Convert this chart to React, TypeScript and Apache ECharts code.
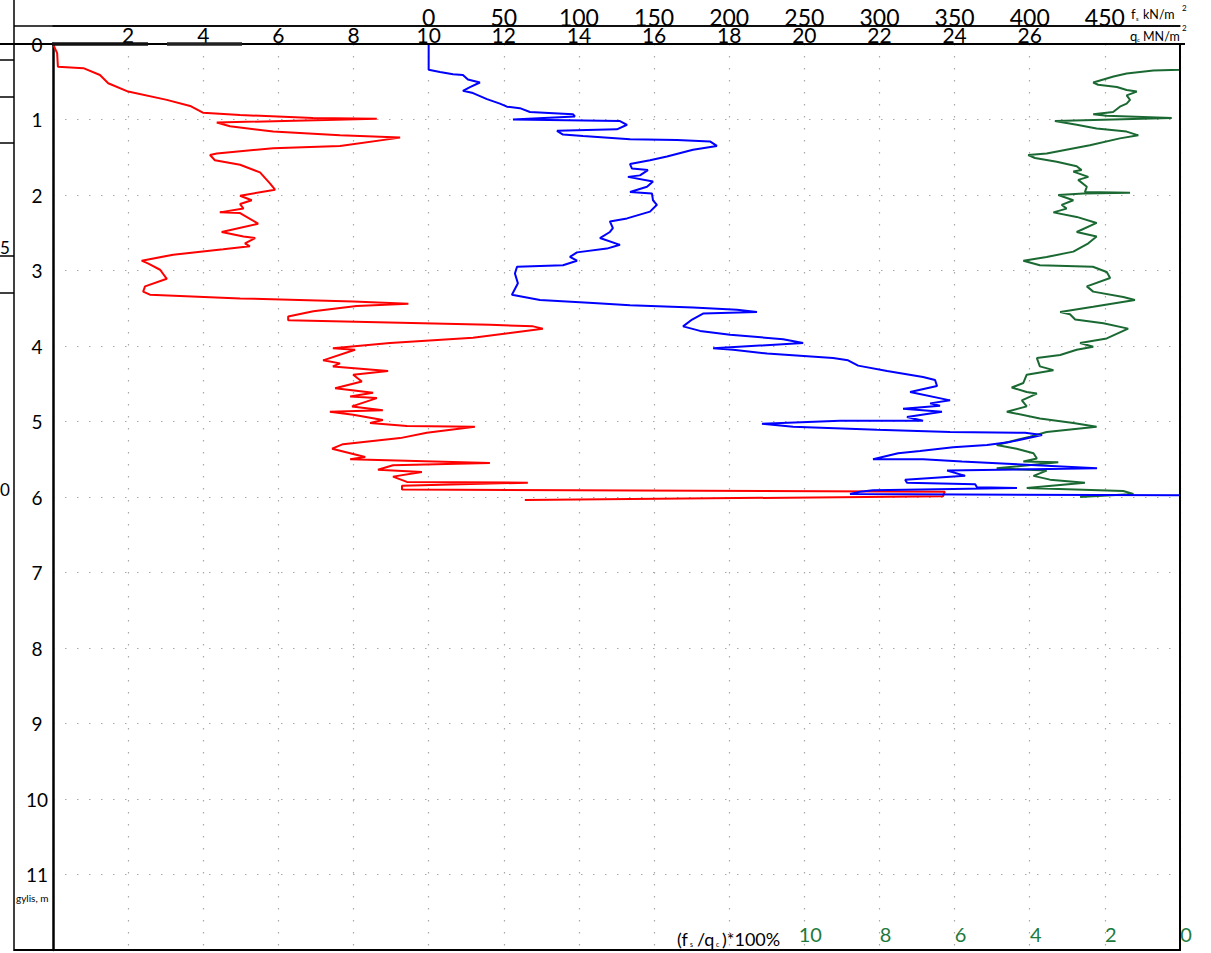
import React, { useEffect, useRef } from "react";
import * as echarts from "echarts";

// Tick labels
const depthTickLabels = [0, 1, 2, 3, 4, 5, 6, 7, 8, 9, 10, 11];
const qcTickLabels = [2, 4, 6, 8, 10, 12, 14, 16, 18, 20, 22, 24, 26];
const fsTickLabels = [0, 50, 100, 150, 200, 250, 300, 350, 400, 450];
const ratioTickLabels = [0, 2, 4, 6, 8, 10];

// qc (MN/m2) vs depth (m): [qc, depth]
const qcProfile: [number, number][] = [
  [0.0, 0.0], [0.11, 0.12], [0.13, 0.3], [0.81, 0.32], [1.25, 0.41], [1.47, 0.52], [2.0, 0.63],
  [3.03, 0.74], [3.65, 0.82], [3.99, 0.91], [4.98, 0.94], [6.92, 0.98], [8.62, 0.99], [4.36, 1.04],
  [4.71, 1.09], [5.86, 1.16], [7.64, 1.21], [9.24, 1.24], [7.64, 1.35], [5.86, 1.38], [4.36, 1.45],
  [4.18, 1.47], [4.31, 1.54], [4.98, 1.6], [5.51, 1.7], [5.78, 1.85], [5.91, 1.93], [4.98, 2.01],
  [5.29, 2.07], [4.98, 2.12], [5.07, 2.18], [4.44, 2.23], [4.98, 2.24], [5.46, 2.38], [4.49, 2.49],
  [5.07, 2.55], [5.38, 2.57], [5.11, 2.64], [5.24, 2.68], [4.53, 2.72], [3.2, 2.79], [2.36, 2.87],
  [2.54, 2.91], [2.85, 2.99], [3.03, 3.11], [2.45, 3.21], [2.4, 3.28], [2.58, 3.32], [4.98, 3.37],
  [7.99, 3.41], [9.46, 3.44], [8.08, 3.47], [6.93, 3.54], [6.26, 3.61], [6.26, 3.66], [11.63, 3.72],
  [12.78, 3.74], [13.04, 3.77], [11.18, 3.89], [8.97, 3.96], [7.45, 4.03], [8.04, 4.05], [7.19, 4.19],
  [7.64, 4.23], [7.45, 4.27], [8.92, 4.33], [7.99, 4.38], [8.22, 4.47], [7.51, 4.56], [8.52, 4.62],
  [7.91, 4.67], [8.62, 4.69], [7.96, 4.8], [8.78, 4.85], [7.37, 4.87], [7.99, 4.91], [8.78, 4.98],
  [8.44, 5.02], [9.42, 5.06], [11.23, 5.07], [9.95, 5.15], [9.24, 5.22], [7.72, 5.3], [7.43, 5.36],
  [8.31, 5.47], [7.91, 5.5], [11.63, 5.55], [9.05, 5.58], [8.65, 5.64], [9.82, 5.67], [9.05, 5.73],
  [9.42, 5.8], [12.64, 5.81], [9.29, 5.85], [9.29, 5.9], [23.74, 5.93], [23.69, 5.99], [12.56, 6.04],
];

// fs (kN/m2) vs depth (m): [fs, depth]
const fsProfile: [number, number][] = [
  [0, 0], [0, 0.34], [7.5, 0.37], [16.2, 0.4], [22.8, 0.41], [26.1, 0.47], [34.1, 0.51], [27.5, 0.57],
  [22.8, 0.62], [29.5, 0.65], [38.8, 0.73], [47.4, 0.79], [52.1, 0.83], [60.7, 0.85], [67.4, 0.9],
  [96.0, 0.93], [97.3, 0.96], [56.1, 1.0], [127.3, 1.02], [132.0, 1.07], [125.3, 1.13], [85.4, 1.15],
  [89.4, 1.2], [102.7, 1.22], [134.0, 1.26], [165.2, 1.27], [187.2, 1.29], [191.8, 1.35], [175.9, 1.4],
  [158.6, 1.49], [147.3, 1.54], [134.0, 1.59], [135.3, 1.65], [145.9, 1.67], [140.6, 1.74], [132.6, 1.76],
  [149.3, 1.82], [145.3, 1.89], [134.0, 1.96], [148.6, 1.98], [149.3, 2.07], [151.9, 2.13], [147.3, 2.22],
  [132.0, 2.31], [120.6, 2.35], [122.6, 2.44], [120.6, 2.49], [114.0, 2.57], [127.3, 2.66], [118.6, 2.71],
  [98.7, 2.76], [94.0, 2.82], [98.7, 2.87], [89.4, 2.93], [58.8, 2.95], [57.4, 3.04], [59.4, 3.17],
  [55.4, 3.32], [74.1, 3.39], [109.4, 3.43], [134.0, 3.46], [175.9, 3.49], [205.2, 3.52], [218.5, 3.55],
  [182.6, 3.57], [175.3, 3.65], [169.3, 3.74], [180.6, 3.8], [200.6, 3.85], [235.9, 3.91], [249.2, 3.96],
  [189.3, 4.03], [202.6, 4.05], [225.2, 4.1], [269.1, 4.16], [279.1, 4.19], [285.8, 4.26], [305.1, 4.33],
  [329.0, 4.41], [337.0, 4.45], [338.3, 4.53], [320.4, 4.61], [347.0, 4.72], [333.7, 4.76], [340.3, 4.79],
  [315.7, 4.83], [341.6, 4.87], [318.3, 4.94], [329.0, 4.99], [273.8, 4.99], [221.8, 5.03], [242.5, 5.07],
  [298.4, 5.11], [347.0, 5.14], [396.9, 5.15], [408.2, 5.18], [386.9, 5.27], [371.6, 5.31], [349.0, 5.34],
  [327.0, 5.39], [312.4, 5.42], [295.7, 5.5], [329.0, 5.5], [354.9, 5.53], [384.9, 5.56], [444.8, 5.62],
  [345.0, 5.65], [357.0, 5.72], [317.1, 5.77], [318.3, 5.81], [363.6, 5.83], [364.9, 5.87], [391.5, 5.88],
  [295.7, 5.91], [287.0, 5.93], [280.4, 5.96], [520.6, 5.98],
];

// friction ratio (fs/qc)*100% vs depth (m): [ratio, depth]
const ratioProfile: [number, number][] = [
  [0, 0], [0, 0.34], [0.71, 0.35], [1.42, 0.39], [1.77, 0.43], [2.04, 0.47], [2.31, 0.51], [2.18, 0.54],
  [1.68, 0.57], [1.42, 0.61], [1.15, 0.63], [1.42, 0.68], [1.33, 0.74], [1.42, 0.79], [1.6, 0.83],
  [1.78, 0.9], [2.31, 0.93], [1.95, 0.95], [0.22, 0.98], [3.33, 1.02], [2.75, 1.07], [2.22, 1.12],
  [1.42, 1.16], [1.11, 1.21], [1.6, 1.25], [2.4, 1.34], [3.55, 1.45], [4.04, 1.47], [3.86, 1.51],
  [3.28, 1.56], [2.75, 1.62], [2.62, 1.67], [2.84, 1.69], [2.44, 1.76], [2.71, 1.8], [2.48, 1.89],
  [2.53, 1.96], [1.33, 1.97], [2.57, 1.98], [3.24, 2.0], [2.84, 2.07], [3.15, 2.13], [3.02, 2.18],
  [3.37, 2.23], [2.75, 2.29], [2.22, 2.37], [2.75, 2.49], [2.22, 2.55], [2.44, 2.64], [2.84, 2.75],
  [3.55, 2.82], [4.17, 2.87], [3.73, 2.93], [2.32, 2.95], [1.95, 3.02], [1.86, 3.1], [2.48, 3.21],
  [2.31, 3.28], [1.51, 3.35], [1.2, 3.39], [2.31, 3.48], [3.19, 3.55], [2.93, 3.58], [2.79, 3.65],
  [2.04, 3.7], [1.38, 3.77], [1.95, 3.9], [2.66, 3.96], [2.31, 4.01], [2.75, 4.05], [3.19, 4.12],
  [3.81, 4.16], [3.73, 4.27], [3.37, 4.32], [4.08, 4.38], [4.17, 4.49], [4.48, 4.55], [4.08, 4.61],
  [3.81, 4.63], [4.21, 4.72], [4.08, 4.8], [4.61, 4.87], [3.73, 4.96], [2.84, 5.02], [2.22, 5.07],
  [3.55, 5.14], [3.99, 5.2], [4.88, 5.31], [4.35, 5.36], [3.9, 5.42], [3.81, 5.49], [4.17, 5.53],
  [3.24, 5.54], [4.88, 5.62], [3.55, 5.65], [3.9, 5.72], [3.46, 5.77], [2.53, 5.81], [4.08, 5.88],
  [1.51, 5.92], [1.24, 5.96], [2.66, 6.0],
];

const FONT = "Lato, 'Liberation Sans', sans-serif";
const GREEN = "#1a6932";
const LABEL_GREEN = "#217a3c";

const dotted = { color: "#a8a8a8", width: 1.2, type: [1.5, 10.5] as number[] };

function line(x1: number, y1: number, x2: number, y2: number, w: number, color = "#000") {
  return { type: "line", shape: { x1, y1, x2, y2 }, style: { stroke: color, lineWidth: w }, silent: true, z: 10 };
}
function txt(x: number, y: number, text: string, size: number, extra: any = {}) {
  return {
    type: "text",
    x,
    y,
    style: { text, fontSize: size, fontFamily: FONT, fill: "#000", verticalAlign: "middle", ...extra },
    silent: true,
    z: 11,
  };
}

export default function App() {
  const ref = useRef<HTMLDivElement>(null);
  useEffect(() => {
    if (!ref.current) return;
    const chart = echarts.init(ref.current, undefined, { renderer: "svg" });
    const option: any = {
      animation: false,
      backgroundColor: "#fff",
      textStyle: { fontFamily: FONT },
      grid: { left: 53, right: 31, top: 44, bottom: 3, containLabel: false },
      xAxis: [
        {
          type: "value",
          position: "top",
          min: 0,
          max: 30,
          interval: 2,
          axisLine: { show: true, onZero: false, lineStyle: { color: "#000", width: 2 } },
          axisTick: { show: false },
          axisLabel: {
            formatter: (v: number) => (qcTickLabels.includes(v) ? String(v) : ""),
            fontSize: 21,
            lineHeight: 16,
            color: "#000",
            margin: 2,
            fontFamily: FONT,
          },
          splitLine: { show: true, lineStyle: dotted },
        },
        {
          type: "value",
          position: "top",
          offset: 18,
          min: -250,
          max: 500,
          interval: 50,
          axisLine: { show: true, onZero: false, lineStyle: { color: "#000", width: 1.5 } },
          axisTick: { show: false },
          axisLabel: {
            formatter: (v: number) => (fsTickLabels.includes(v) ? String(v) : ""),
            fontSize: 23,
            lineHeight: 17,
            color: "#000",
            margin: 1,
            fontFamily: FONT,
          },
          splitLine: { show: false },
        },
        {
          type: "value",
          position: "bottom",
          inverse: true,
          min: 0,
          max: 30,
          interval: 2,
          axisLine: { show: false },
          axisTick: { show: false },
          axisLabel: {
            inside: true,
            showMinLabel: true,
            formatter: (v: number) => (ratioTickLabels.includes(v) ? String(v) : ""),
            fontSize: 20,
            color: LABEL_GREEN,
            margin: 6,
            padding: [0, 0, 0, 12],
            fontFamily: FONT,
          },
          splitLine: { show: false },
        },
      ],
      yAxis: {
        type: "value",
        inverse: true,
        min: 0,
        max: 12,
        interval: 1,
        axisLine: { show: true, onZero: false, lineStyle: { color: "#000", width: 2.5 } },
        axisTick: { show: false },
        axisLabel: {
          formatter: (v: number) => (depthTickLabels.includes(v) ? String(v) : ""),
          fontSize: 19,
          color: "#000",
          margin: 16,
          align: "center",
          fontFamily: FONT,
        },
        splitLine: { show: true, lineStyle: dotted },
      },
      series: [
        {
          name: "qc",
          type: "line",
          xAxisIndex: 0,
          yAxisIndex: 0,
          data: qcProfile,
          showSymbol: false,
          symbol: "none",
          clip: false,
          lineStyle: { color: "#ff0000", width: 2 },
          z: 3,
        },
        {
          name: "fs",
          type: "line",
          xAxisIndex: 1,
          yAxisIndex: 0,
          data: fsProfile,
          showSymbol: false,
          symbol: "none",
          clip: false,
          lineStyle: { color: "#0000ff", width: 2 },
          z: 4,
        },
        {
          name: "ratio",
          type: "line",
          xAxisIndex: 2,
          yAxisIndex: 0,
          data: ratioProfile,
          showSymbol: false,
          symbol: "none",
          clip: false,
          lineStyle: { color: GREEN, width: 2 },
          z: 2,
        },
      ],
      graphic: [
        // frame lines
        line(14, 0, 14, 951, 1.5),
        line(14, 26, 1180, 26, 1.5),
        line(0, 44, 1185, 44, 2),
        line(14, 950, 1181, 950, 2),
        line(1180, 44, 1180, 951, 2),
        line(52, 44, 148, 44, 3.5, "#111"),
        line(167, 44, 242, 44, 3.5, "#222"),
        // left-edge remnants
        line(0, 60, 14, 60, 1.5),
        line(0, 97, 14, 97, 1.5),
        line(0, 143, 14, 143, 1.5),
        line(0, 256, 14, 256, 1.5),
        line(0, 293, 14, 293, 1.5),
        txt(0, 247, "5", 17),
        txt(0, 489, "0", 17),
        // units
        txt(1131, 14, "f", 13),
        txt(1136, 18, "s", 6),
        txt(1143, 14, "kN/m", 12.5),
        txt(1182, 8, "2", 8),
        txt(1130, 36, "q", 13),
        txt(1137, 39, "c", 6),
        txt(1143, 36, "MN/m", 12.5),
        txt(1182, 28, "2", 8),
        // depth unit
        txt(16, 898, "gylis, m", 10),
        // ratio title
        txt(677, 939, "(f", 18),
        txt(690, 944, "s", 7),
        txt(697, 939, "/q", 18),
        txt(716, 944, "c", 7),
        txt(722, 939, ")*100%", 18),
      ],
    };
    chart.setOption(option);
    return () => chart.dispose();
  }, []);
  return (
    <div
      ref={ref}
      style={{ position: "fixed", left: 0, top: 0, width: 1211, height: 953, background: "#fff" }}
    />
  );
}
